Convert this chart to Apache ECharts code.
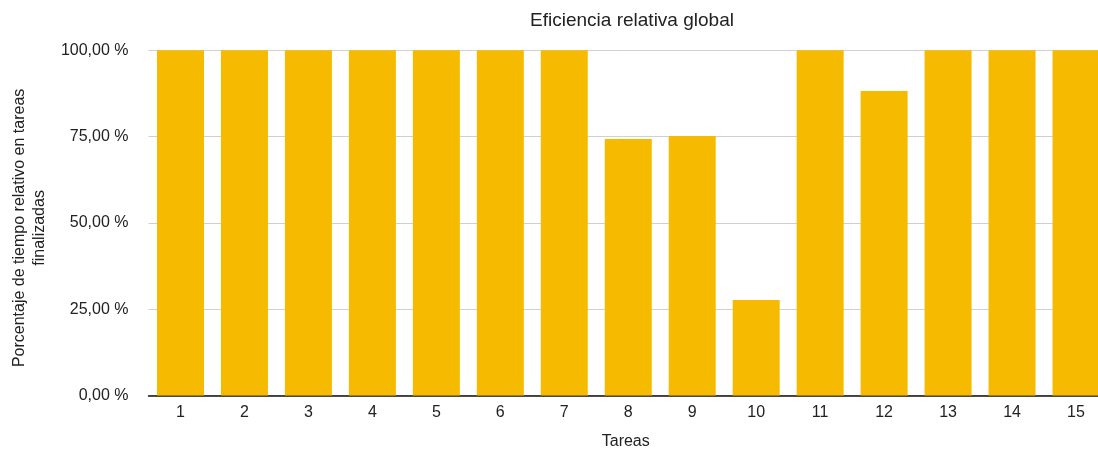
<!DOCTYPE html>
<html>
<head>
<meta charset="utf-8">
<script src="https://cdn.jsdelivr.net/npm/echarts@6/dist/echarts.min.js"></script>
<style>
  html, body { margin: 0; padding: 0; background: #fff; }
  #chart { width: 1098px; height: 452px; }
</style>
</head>
<body>
<div id="chart"></div>
<script>
// Tasks and their relative efficiency (percent)
const tareas = ['1','2','3','4','5','6','7','8','9','10','11','12','13','14','15'];
const eficiencia = [100, 100, 100, 100, 100, 100, 100, 74.3, 75.2, 27.7, 100, 88.2, 100, 100, 100];
const yTicks = [0, 25, 50, 75, 100];

const font = '"Liberation Sans", Arial, Helvetica, sans-serif';
const chart = echarts.init(document.getElementById('chart'));

chart.setOption({
  animation: false,
  title: {
    text: 'Eficiencia relativa global',
    left: 627, top: 6, textAlign: 'center',
    textStyle: { fontFamily: font, fontSize: 19, fontWeight: 'normal', color: '#222' }
  },
  grid: {
    left: 148.5, right: -10, top: 50.3, bottom: 56.5,
    containLabel: false, outerBoundsMode: 'none'
  },
  xAxis: {
    type: 'category',
    data: tareas,
    name: 'Tareas',
    nameLocation: 'middle',
    nameGap: 38,
    nameTextStyle: { fontFamily: font, fontSize: 16, color: '#222', padding: [0, 0, 0, -5] },
    axisLine: { lineStyle: { color: '#111', width: 1.5 } },
    axisTick: { show: false },
    axisLabel: { fontFamily: font, fontSize: 16, color: '#222', margin: 9 }
  },
  yAxis: {
    type: 'value',
    min: yTicks[0], max: yTicks[yTicks.length - 1], interval: 25,
    name: 'Porcentaje de tiempo relativo en tareas\nfinalizadas',
    nameLocation: 'middle',
    nameGap: 98,
    nameRotate: 90,
    nameTextStyle: { fontFamily: font, fontSize: 16, color: '#222', lineHeight: 20, align: 'center', padding: [0, 0, 0, -10] },
    axisLine: { show: false },
    axisTick: { show: false },
    splitLine: { lineStyle: { color: '#d0d0d0', width: 1 } },
    axisLabel: {
      fontFamily: font, fontSize: 16, color: '#222', margin: 20,
      formatter: v => v.toFixed(2).replace('.', ',') + ' %'
    }
  },
  series: [{
    type: 'bar',
    data: eficiencia,
    barWidth: 47,
    itemStyle: { color: '#F6BA00' }
  }]
});
</script>
</body>
</html>
